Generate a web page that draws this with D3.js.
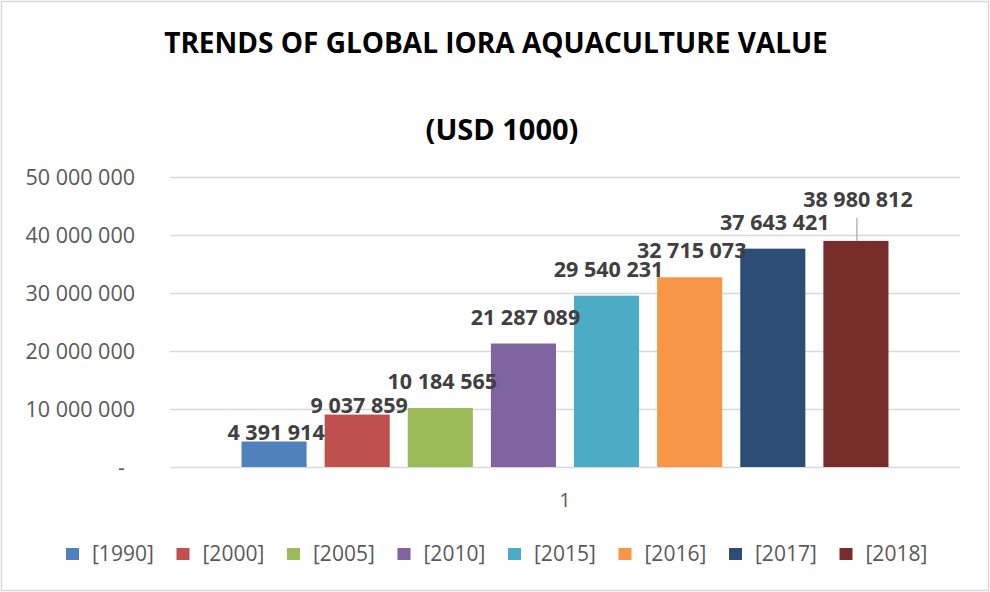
<!DOCTYPE html>
<html>
<head>
<meta charset="utf-8">
<script src="https://cdn.jsdelivr.net/npm/d3@7"></script>
<style>
  html, body { margin: 0; padding: 0; background: #fff; }
  svg { display: block; font-family: "Open Sans", "DejaVu Sans", sans-serif; }
</style>
</head>
<body>
<svg id="chart" width="990" height="592"></svg>
<script>
// Series: one bar per year, all in the single category "1"
const categories = ["1"];
const years = ["[1990]", "[2000]", "[2005]", "[2010]", "[2015]", "[2016]", "[2017]", "[2018]"];
const values = [4391914, 9037859, 10184565, 21287089, 29540231, 32715073, 37643421, 38980812];
const yTickValues = [0, 10000000, 20000000, 30000000, 40000000, 50000000];

// Styling
const colors = ["#4F81BD", "#C0504D", "#9BBB59", "#8064A2", "#4BACC6", "#F79646", "#2C4D75", "#772C2A"];
// Vertical gap (px) between each bar top and its value label baseline
const labelGap = [2, 2, 19, 19, 19, 19, 19, 34];

const W = 990, H = 592;
const plot = { left: 170, right: 960, top: 177, bottom: 467 };

const svg = d3.select("#chart");

// Outer chart border
svg.append("rect")
  .attr("x", 1.5).attr("y", 1.5)
  .attr("width", W - 3).attr("height", H - 3)
  .attr("fill", "#fff").attr("stroke", "#d9d9d9").attr("stroke-width", 1.5);

// Title
svg.append("text")
  .attr("x", 496).attr("y", 53)
  .attr("text-anchor", "middle")
  .attr("font-size", 28).attr("font-weight", 700).attr("fill", "#000")
  .text("TRENDS OF GLOBAL IORA AQUACULTURE VALUE");
svg.append("text")
  .attr("x", 502).attr("y", 140)
  .attr("text-anchor", "middle")
  .attr("font-size", 29).attr("font-weight", 700).attr("fill", "#000")
  .text("(USD 1000)");

// Scales
const y = d3.scaleLinear().domain([0, 50000000]).range([plot.bottom, plot.top]);
const x0 = d3.scaleBand().domain(categories).range([plot.left, plot.right])
  .paddingInner(0).paddingOuter(0.094);
const x1 = d3.scaleBand().domain(years).range([0, x0.bandwidth()])
  .paddingInner(0.217).paddingOuter(0.1085);

const spaced = v => d3.format(",")(v).replace(/,/g, " ");

// Gridlines and value axis
const yAxis = d3.axisLeft(y)
  .tickValues(yTickValues)
  .tickSize(-(plot.right - plot.left))
  .tickPadding(35)
  .tickFormat(v => v === 0 ? "-" : spaced(v));

const gy = svg.append("g")
  .attr("transform", `translate(${plot.left},0)`)
  .call(yAxis);
gy.select(".domain").remove();
gy.selectAll(".tick line").attr("stroke", "#d9d9d9").attr("stroke-width", 1.5);
gy.selectAll(".tick text")
  .attr("fill", "#595959")
  .attr("font-size", 21.5)
  .attr("font-family", "Open Sans, sans-serif")
  .attr("dy", "0.33em");
gy.selectAll(".tick text").filter(d => d === 0).attr("x", -45);

// Category axis label
const xAxis = d3.axisBottom(x0).tickSize(0).tickPadding(26);
const gx = svg.append("g")
  .attr("transform", `translate(0,${plot.bottom})`)
  .call(xAxis);
gx.select(".domain").remove();
gx.selectAll(".tick text")
  .attr("fill", "#595959")
  .attr("font-size", 20)
  .attr("font-family", "Open Sans, sans-serif");

// Bars
const group = svg.append("g")
  .attr("transform", `translate(${x0(categories[0])},0)`);

group.selectAll("rect.bar")
  .data(values)
  .join("rect")
  .attr("class", "bar")
  .attr("x", (d, i) => x1(years[i]))
  .attr("width", x1.bandwidth())
  .attr("y", d => y(d))
  .attr("height", d => y(0) - y(d))
  .attr("fill", (d, i) => colors[i]);

// Leader line for the lifted 2018 label
const lastI = values.length - 1;
group.append("line")
  .attr("x1", x1(years[lastI]) + x1.bandwidth() / 2 + 1)
  .attr("x2", x1(years[lastI]) + x1.bandwidth() / 2 + 1)
  .attr("y1", y(values[lastI]) - labelGap[lastI] + 11)
  .attr("y2", y(values[lastI]))
  .attr("stroke", "#a6a6a6").attr("stroke-width", 1.2);

// Value labels
group.selectAll("text.val")
  .data(values)
  .join("text")
  .attr("class", "val")
  .attr("x", (d, i) => x1(years[i]) + x1.bandwidth() / 2 + 2)
  .attr("y", (d, i) => y(d) - labelGap[i])
  .attr("text-anchor", "middle")
  .attr("font-size", 21.5).attr("font-weight", 700).attr("fill", "#404040")
  .text(d => spaced(d));

// Legend
const legendStep = 110.5;
const legendStart = 66;
const lg = svg.append("g");
const items = lg.selectAll("g.item")
  .data(years)
  .join("g")
  .attr("class", "item")
  .attr("transform", (d, i) => `translate(${legendStart + i * legendStep},548)`);
items.append("rect")
  .attr("width", 13).attr("height", 12)
  .attr("fill", (d, i) => colors[i]);
items.append("text")
  .attr("x", 26).attr("y", 12.5)
  .attr("font-size", 21).attr("fill", "#595959")
  .text(d => d);
</script>
</body>
</html>
